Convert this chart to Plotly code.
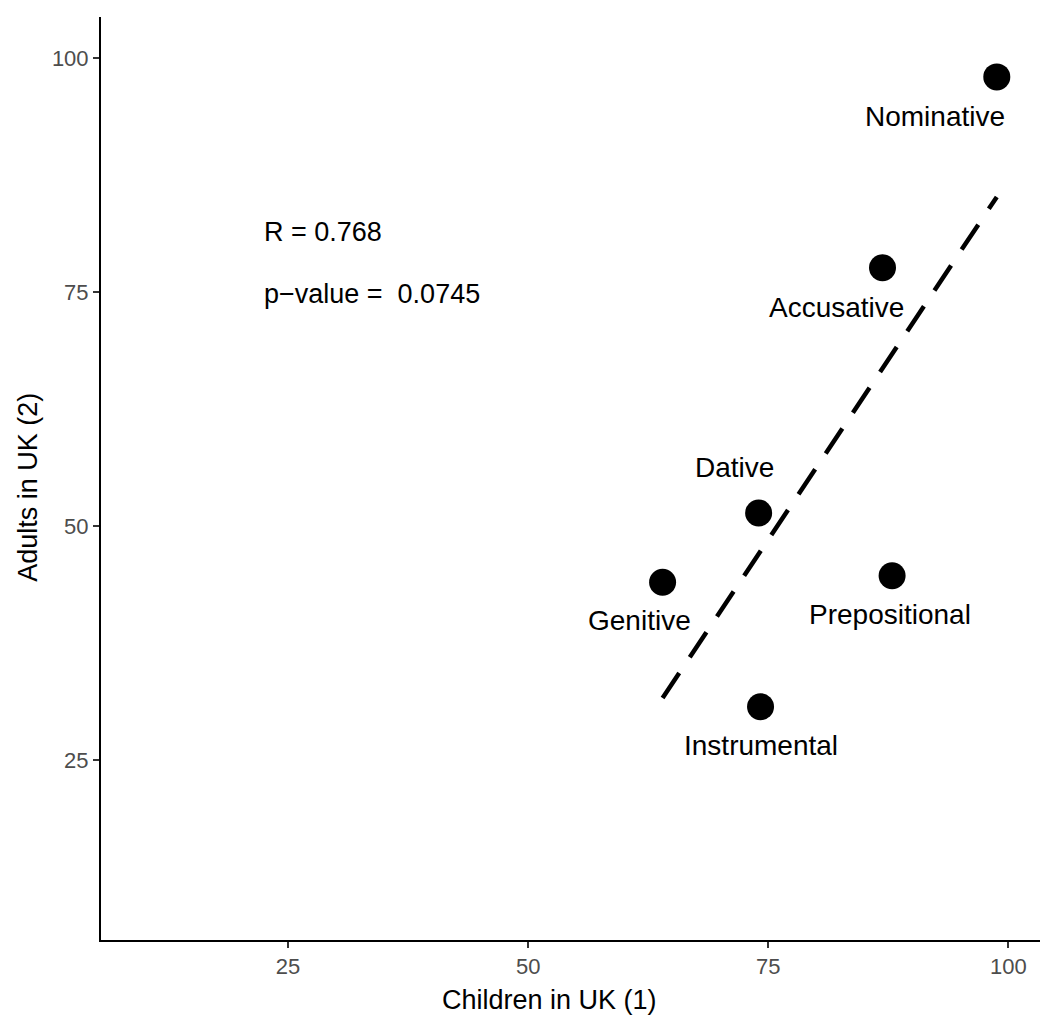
import numpy as np
import plotly.graph_objects as go

# ---- data ----
cases = ["Nominative", "Accusative", "Dative", "Genitive", "Prepositional", "Instrumental"]
children_uk = [98.8, 86.9, 74.0, 64.0, 87.9, 74.2]
adults_uk = [98.0, 77.6, 51.4, 44.0, 44.7, 30.7]
x_ticks = [25, 50, 75, 100]
y_ticks = [25, 50, 75, 100]
x_title = "Children in UK (1)"
y_title = "Adults in UK (2)"
stat_r_text = "R = 0.768"
stat_p_text = "p\u2212value =  0.0745"

# ---- label offsets (pixels, label centre relative to point) ----
label_dx = [-62, -46, -24, -23, -2, 0]
label_dy = [-40, -40, 45, -38, -39, -39]

FONT = "Liberation Sans, Arial, sans-serif"

x = np.array(children_uk)
y = np.array(adults_uk)
slope, intercept = np.polyfit(x, y, 1)
fit_x = np.array([x.min(), x.max()])
fit_y = slope * fit_x + intercept

fig = go.Figure()
fig.add_trace(go.Scatter(
    x=fit_x, y=fit_y, mode="lines",
    line=dict(color="black", width=4.5, dash="30px,19px"),
    hoverinfo="skip", showlegend=False,
))
fig.add_trace(go.Scatter(
    x=children_uk, y=adults_uk, mode="markers",
    marker=dict(color="black", size=27, line=dict(width=0)),
    text=cases, showlegend=False,
))

annotations = []
for c, xv, yv, dx, dy in zip(cases, children_uk, adults_uk, label_dx, label_dy):
    annotations.append(dict(
        x=xv, y=yv, xref="x", yref="y", text=c, showarrow=False,
        xanchor="center", yanchor="middle", xshift=dx, yshift=dy,
        font=dict(family=FONT, size=28, color="black"),
    ))
annotations.append(dict(x=22.3, y=81.4, xref="x", yref="y", text=stat_r_text,
                        showarrow=False, xanchor="left", yanchor="middle",
                        font=dict(family=FONT, size=27, color="black")))
annotations.append(dict(x=22.3, y=74.8, xref="x", yref="y", text=stat_p_text,
                        showarrow=False, xanchor="left", yanchor="middle",
                        font=dict(family=FONT, size=27, color="black")))
# axis titles
annotations.append(dict(x=0.478, y=0, xref="paper", yref="paper", text=x_title,
                        showarrow=False, xanchor="center", yanchor="middle",
                        yshift=-60, font=dict(family=FONT, size=27, color="black")))
annotations.append(dict(x=0, y=0.49, xref="paper", yref="paper", text=y_title,
                        showarrow=False, xanchor="center", yanchor="middle",
                        xshift=-73, textangle=-90,
                        font=dict(family=FONT, size=27, color="black")))

axis_common = dict(
    showgrid=False, zeroline=False, showline=True, linecolor="black", linewidth=2,
    ticks="outside", ticklen=6, tickwidth=1.5, tickcolor="#333333",
    tickfont=dict(family=FONT, size=22, color="#4D4D4D"),
)

fig.update_layout(
    width=1043, height=1019,
    margin=dict(l=101, r=3, t=17, b=79, autoexpand=False),
    paper_bgcolor="white", plot_bgcolor="white",
    xaxis=dict(range=[5.52, 103.3], tickvals=x_ticks, **axis_common),
    yaxis=dict(range=[5.77, 104.4], tickvals=y_ticks, **axis_common),
    annotations=annotations,
    showlegend=False,
)

fig.write_html("out.html")
